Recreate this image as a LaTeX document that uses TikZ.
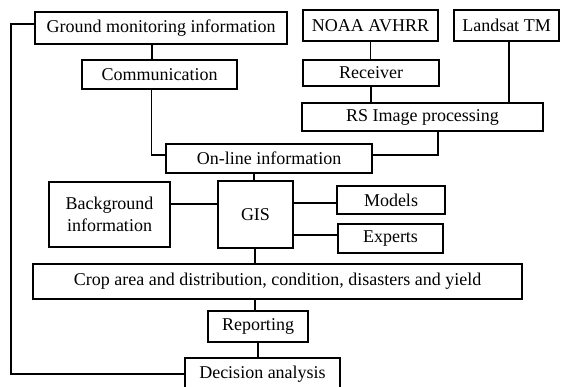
\documentclass[tikz,border=0pt]{standalone}
\usepackage{fontspec}
\setmainfont{Liberation Serif}
\begin{document}
\begin{tikzpicture}[x=1pt,y=-1pt,
  box/.style={draw,line width=1.8pt,inner sep=0pt,align=center,font=\fontsize{18}{22}\selectfont},
  link/.style={line width=1.6pt}]
\useasboundingbox (0,0) rectangle (568,386);
\node[box,minimum width=252pt,minimum height=32pt] (ground) at (161,28) {Ground monitoring information};
\node[box,minimum width=155pt,minimum height=29pt] (comm) at (159.5,74.5) {Communication};
\node[box,minimum width=135pt,minimum height=31pt] (noaa) at (370.5,25.5) {NOAA AVHRR};
\node[box,minimum width=105pt,minimum height=31pt] (landsat) at (506.5,25.5) {Landsat TM};
\node[box,minimum width=136pt,minimum height=26pt] (receiver) at (371,73) {Receiver};
\node[box,minimum width=241pt,minimum height=28pt] (rs) at (422.5,117) {RS Image processing};
\node[box,minimum width=206pt,minimum height=29pt] (online) at (269,158.5) {On-line information};
\node[box,minimum width=121pt,minimum height=65pt] (bg) at (109.5,214.5) {Background\\information};
\node[box,minimum width=75pt,minimum height=67pt] (gis) at (255.5,214.5) {GIS};
\node[box,minimum width=108pt,minimum height=28pt] (models) at (391,200) {Models};
\node[box,minimum width=105pt,minimum height=29pt] (experts) at (390.5,238.5) {Experts};
\node[box,minimum width=489pt,minimum height=35pt] (crop) at (277.5,281.5) {Crop area and distribution, condition, disasters and yield};
\node[box,minimum width=100pt,minimum height=31pt] (report) at (258,326.5) {Reporting};
\node[box,minimum width=155pt,minimum height=32pt] (decision) at (262.5,374) {Decision analysis};
% connectors
\draw[link] ([xshift=-7.5pt]comm.north) -- ([xshift=-7.5pt]comm.north |- ground.south);
\draw[link] ([xshift=-8pt]comm.south) |- ([yshift=3.5pt]online.west);
\draw[link] (noaa.south) -- (noaa.south |- receiver.north);
\draw[link] (receiver.south) -- (receiver.south |- rs.north);
\draw[link] ([xshift=2.5pt]landsat.south) -- ([xshift=2.5pt]landsat.south |- rs.north);
\draw[link] ([xshift=15.5pt]rs.south) |- ([yshift=3.5pt]online.east);
\draw[link] (gis.north -| 254,0) -- (online.south -| 254,0);
\draw[link] ([yshift=10.5pt]bg.east) -- ([yshift=10.5pt]bg.east -| gis.west);
\draw[link] ([yshift=-3pt]models.west) -- ([yshift=-3pt]models.west -| gis.east);
\draw[link] ([yshift=3.5pt]experts.west) -- ([yshift=3.5pt]experts.west -| gis.east);
\draw[link] ([xshift=-0.5pt]gis.south) -- ([xshift=-0.5pt]gis.south |- crop.north);
\draw[link] ([xshift=-3pt]report.north) -- ([xshift=-3pt]report.north |- crop.south);
\draw[link] (report.south) -- (report.south |- decision.north);
\draw[link] ([yshift=4pt]ground.west) -- ++(-23,0) |- (decision.west);
\end{tikzpicture}
\end{document}
